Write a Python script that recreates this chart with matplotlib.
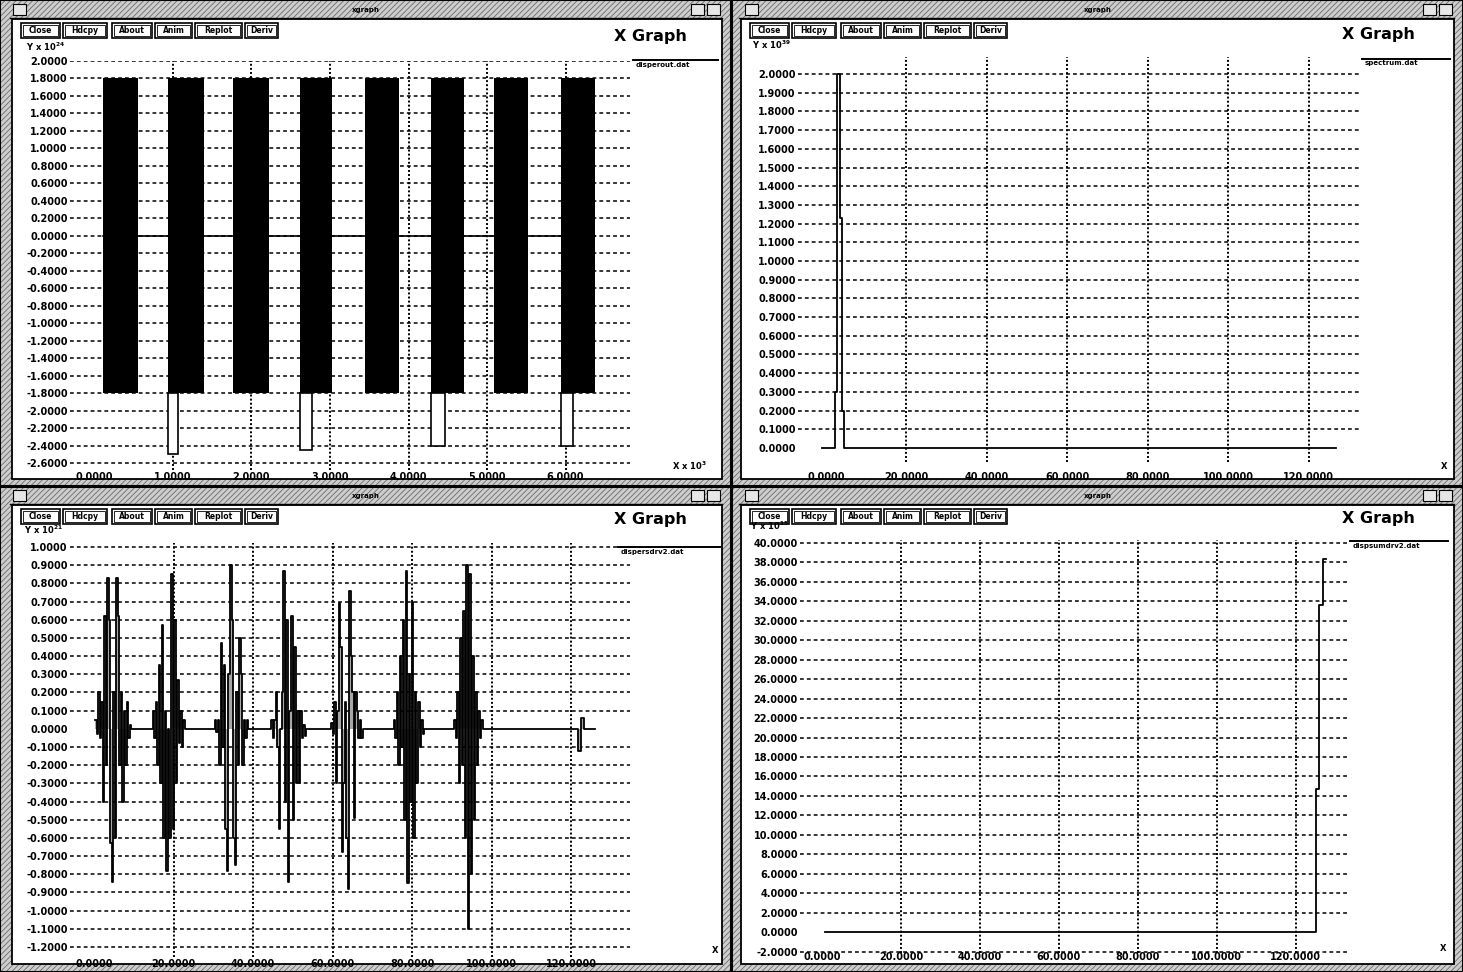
import numpy as np
import matplotlib.pyplot as plt
from matplotlib.patches import Rectangle

plt.rcParams['font.family'] = ['DejaVu Sans']
plt.rcParams['axes.unicode_minus'] = False
plt.rcParams['hatch.linewidth'] = 0.6

W, H = 1463, 972

# --- data -------------------------------------------------------------
# top-left: raw signal bursts (x in units of 10^3, y in 10^24)
tl_burst_start = [0.11, 0.94, 1.76, 2.62, 3.45, 4.29, 5.09, 5.94]
tl_burst_width = [0.45, 0.45, 0.46, 0.41, 0.43, 0.42, 0.43, 0.43]
tl_burst_amp = 1.8
tl_spike_x = [0.94, 2.62, 4.29, 5.94]
tl_spike_w = [0.12, 0.15, 0.17, 0.16]
tl_spike_low = [-2.5, -2.45, -2.4, -2.4]

# top-right: spectrum (y in 10^39)
tr_freq = [-1.0, 2.2, 2.7, 3.5, 4.0, 4.5, 126.8]
tr_amp = [0.0, 0.3, 2.0, 1.23, 0.2, 0.0, 0.0]

# bottom-left: second derivative, sampled bursts (y in 10^21)
bl_dt = 0.38
bl_burst_t0 = [0.3, 14.8, 30.4, 44.6, 59.6, 75.4, 90.6]
bl_b1 = [0.05, -0.03, 0.20, -0.05, 0.15, -0.40, 0.62, -0.20, 0.83, 0.60, -0.63, -0.84, 0.20,
         -0.60, 0.83, 0.62, -0.20, 0.20, -0.40, 0.10, -0.20, 0.15, -0.05, 0.02, 0.0]
bl_b2 = [0.10, -0.05, 0.15, -0.20, 0.35, -0.30, 0.57, -0.60, 0.10, -0.78, 0.00, -0.60, 0.85,
         -0.55, 0.60, -0.30, 0.27, -0.08, 0.10, -0.10, 0.05, 0.0]
bl_b3 = [0.05, -0.02, 0.05, -0.20, 0.47, -0.10, 0.35, -0.55, -0.78, 0.30, 0.90, 0.60, -0.60,
         -0.75, 0.20, -0.20, 0.50, 0.30, -0.20, 0.05, -0.05, 0.05, 0.0]
bl_b4 = [0.05, -0.05, 0.05, 0.20, -0.10, -0.55, 0.00, 0.20, 0.87, -0.40, 0.60, -0.84, 0.10,
         0.62, -0.50, 0.45, -0.30, 0.10, -0.30, 0.10, -0.05, 0.02, -0.04, 0.0]
bl_b5 = [0.03, -0.03, 0.15, -0.30, 0.10, 0.69, 0.45, -0.68, -0.30, 0.15, -0.60, -0.88, 0.76,
         0.40, 0.20, -0.49, 0.20, 0.10, -0.05, 0.05, -0.05, 0.0]
bl_b6 = [0.05, -0.05, 0.20, -0.20, 0.40, -0.10, 0.60, -0.50, 0.87, -0.85, 0.30, -0.40, 0.70,
         -0.60, 0.20, -0.30, 0.15, -0.10, 0.05, -0.03, 0.0]
bl_b7 = [0.05, -0.05, 0.20, -0.30, 0.50, -0.20, 0.65, -0.60, 0.90, -1.10, 0.85, -0.80, 0.40,
         -0.50, 0.20, -0.20, 0.10, -0.05, 0.05, 0.0]
bl_tail_t = [121.8, 122.6, 123.3, 126.0]
bl_tail_v = [-0.12, 0.06, 0.0, 0.0]

# bottom-right: cumulative (y in 10^15)
br_x = [0.8, 125.2, 125.9, 126.8, 127.6]
br_y = [0.0, 14.7, 33.6, 38.3, 38.3]

buttons = [('Close', 9, 48), ('Hdcpy', 51, 95), ('About', 100, 140),
           ('Anim', 143, 180), ('Replot', 183, 230), ('Deriv', 233, 266)]
legend_names = ['disperout.dat', 'spectrum.dat', 'dispersdrv2.dat', 'dispsumdrv2.dat']

# --- figure & window frames -------------------------------------------
fig = plt.figure(figsize=(W / 100, H / 100), dpi=100)
bg = fig.add_axes([0, 0, 1, 1])
bg.set_xlim(0, W)
bg.set_ylim(H, 0)
bg.axis('off')

bg.add_patch(Rectangle((0, 0), W, H, fc='#cdcdcd', ec='#6a6a6a', hatch='//////', lw=0))

windows = [(0, 0, 731, 487, 12), (732, 0, 1463, 487, 9),
           (0, 486, 731, 972, 12), (732, 486, 1463, 972, 9)]
graph_title = [(650, 36), (1378, 34), (650, 519), (1378, 518)]

for (x0, y0, x1, y1, inset), (gx, gy) in zip(windows, graph_title):
    bg.add_patch(Rectangle((x0, y0), x1 - x0, y1 - y0, fill=False, ec='black', lw=1.5))
    bg.plot([x0 + inset - 2, x1 - 9], [y0 + 18, y0 + 18], color='black', lw=1)
    cx0 = x0 + inset
    bg.add_patch(Rectangle((cx0, y0 + 19), x1 - 9 - cx0, y1 - 8 - (y0 + 19),
                           fc='white', ec='black', lw=1.3))
    # title bar decorations
    bg.add_patch(Rectangle((x0 + 13, y0 + 4), 13, 11, fc='#e6e6e6', ec='black', lw=0.8))
    bg.add_patch(Rectangle((x1 - 40, y0 + 4), 13, 11, fc='#e6e6e6', ec='black', lw=0.8))
    bg.add_patch(Rectangle((x1 - 24, y0 + 4), 13, 11, fc='#e6e6e6', ec='black', lw=0.8))
    bg.text((x0 + x1) / 2, y0 + 10, 'xgraph', fontsize=5, fontweight='bold',
            ha='center', va='center', color='black')
    # button row
    for name, bx0, bx1 in buttons:
        bg.add_patch(Rectangle((cx0 + bx0, y0 + 23), bx1 - bx0, 15,
                               fc='white', ec='black', lw=1.2))
        bg.add_patch(Rectangle((cx0 + bx0 + 2, y0 + 25), bx1 - bx0 - 4, 11,
                               fill=False, ec='black', lw=0.6))
        bg.text(cx0 + (bx0 + bx1) / 2, y0 + 30.5, name, fontsize=5.5, fontweight='bold',
                ha='center', va='center')
    bg.text(gx, gy, 'X Graph', fontsize=11.5, fontweight='bold', ha='center', va='center')

# axis unit labels
unit_labels = [(26, 47, r'Y x 10$^{\mathbf{24}}$'), (752, 45, r'Y x 10$^{\mathbf{39}}$'),
               (24, 530, r'Y x 10$^{\mathbf{21}}$'), (750, 526, r'Y x 10$^{\mathbf{15}}$'),
               (672, 466, r'X x 10$^{\mathbf{3}}$'), (1441, 466, 'X'),
               (712, 950, 'X'), (1440, 948, 'X')]
for ux, uy, s in unit_labels:
    bg.text(ux, uy, s, fontsize=6, fontweight='bold', ha='left', va='center')

# legends
legend_pos = [(633, 718, 60), (1362, 1450, 59), (618, 720, 547), (1350, 1448, 541)]
for (lx0, lx1, ly), name in zip(legend_pos, legend_names):
    bg.plot([lx0, lx1], [ly, ly], color='black', lw=1.4)
    bg.text(lx0 + 3, ly + 1.5, name, fontsize=5, fontweight='bold', ha='left', va='top')


def xgraph_axes(px, xlim, ylim, xticks, yticks, skip_zero=False, xpad=1.5):
    x0, y0, x1, y1 = px
    ax = fig.add_axes([x0 / W, 1 - y1 / H, (x1 - x0) / W, (y1 - y0) / H])
    ax.set_facecolor('none')
    ax.set_xlim(*xlim)
    ax.set_ylim(*ylim)
    for s in ax.spines.values():
        s.set_visible(False)
    ax.set_xticks(xticks)
    ax.set_yticks(yticks)
    ax.set_xticklabels(['%.4f' % (v + 0.0) for v in xticks], fontsize=7, fontweight='bold')
    ax.set_yticklabels(['%.4f' % (v + 0.0) for v in yticks], fontsize=7, fontweight='bold')
    ax.tick_params(axis='y', length=0, pad=1.5)
    ax.tick_params(axis='x', length=0, pad=xpad)
    for y in yticks:
        if skip_zero and abs(y) < 1e-9:
            continue
        ax.axhline(y, color='black', lw=1.1, ls=(0, (2.5, 2)), zorder=1)
    for x in xticks:
        if abs(x) < 1e-9:
            continue
        ax.axvline(x, color='black', lw=1.4, ls=(0, (1, 1.1)), zorder=1)
    return ax


# top-left
ax1 = xgraph_axes((70, 61, 630, 470), (-0.31, 6.82), (-2.68, 2.0),
                  np.arange(0, 7), np.round(np.arange(2.0, -2.61, -0.2), 1))
ax1.plot([tl_burst_start[0], tl_burst_start[-1] + tl_burst_width[-1]], [0, 0],
         color='black', lw=1.2, zorder=2)
ax1.bar(tl_burst_start, 2 * tl_burst_amp, width=tl_burst_width, bottom=-tl_burst_amp,
        align='edge', color='black', zorder=3)
ax1.bar(tl_spike_x, [lo + tl_burst_amp for lo in tl_spike_low], width=tl_spike_w,
        bottom=-tl_burst_amp, align='edge', fc='white', ec='black', lw=1.2, zorder=3)

# top-right
ax2 = xgraph_axes((798, 57, 1360, 462), (-6.97, 132.8), (-0.075, 2.091),
                  np.arange(0, 121, 20), np.round(np.arange(2.0, -0.01, -0.1), 1),
                  skip_zero=True, xpad=7)
ax2.plot(tr_freq, tr_amp, drawstyle='steps-post', color='black', lw=1.3, zorder=3)

# bottom-left
ax3 = xgraph_axes((70, 543, 630, 957), (-6.04, 134.8), (-1.255, 1.022),
                  np.arange(0, 121, 20), np.round(np.arange(1.0, -1.21, -0.1), 1),
                  skip_zero=True)
bursts = [bl_b1, bl_b2, bl_b3, bl_b4, bl_b5, bl_b6, bl_b7]
wave_t, wave_v = [], []
for t0, vals in zip(bl_burst_t0, bursts):
    wave_t.extend(t0 + bl_dt * np.arange(len(vals)))
    wave_v.extend(vals)
wave_t.extend(bl_tail_t)
wave_v.extend(bl_tail_v)
ax3.fill_between(wave_t, wave_v, 0, step='post', color='#a8a8a8', lw=0, zorder=2)
ax3.plot(wave_t, wave_v, drawstyle='steps-post', color='black', lw=1.3, zorder=3)

# bottom-right
ax4 = xgraph_axes((800, 540, 1348, 953), (-5.57, 133.2), (-2.15, 40.3),
                  np.arange(0, 121, 20), np.arange(40, -3, -2), skip_zero=True, xpad=-1)
ax4.plot(br_x, br_y, drawstyle='steps-post', color='black', lw=1.3, zorder=3)

fig.savefig('out.png', dpi=100)
